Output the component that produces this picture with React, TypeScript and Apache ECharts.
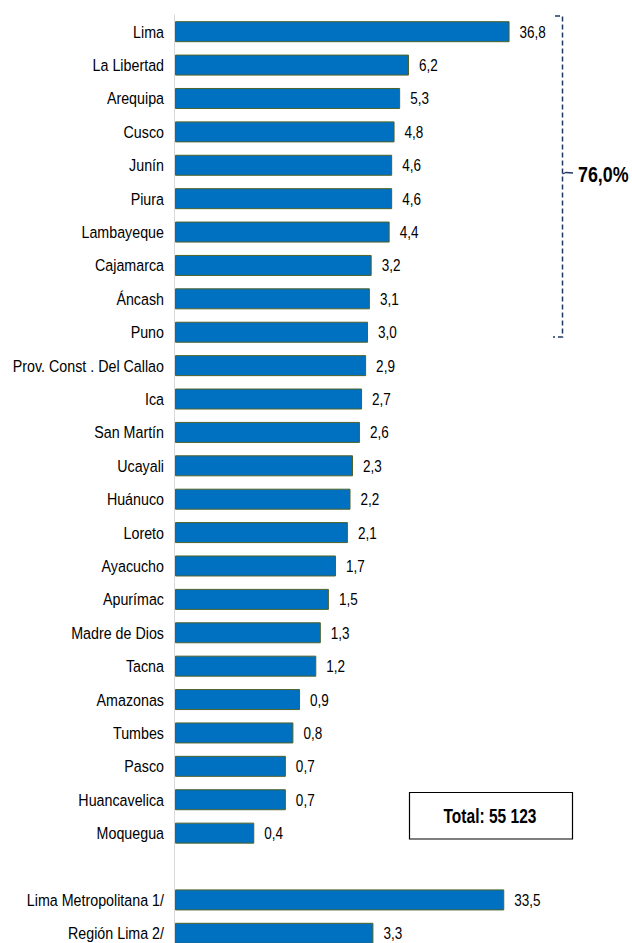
import React, { useEffect, useRef } from "react";
import * as echarts from "echarts";

const categories: string[] = [
  "Lima", "La Libertad", "Arequipa", "Cusco", "Junín", "Piura", "Lambayeque",
  "Cajamarca", "Áncash", "Puno", "Prov. Const . Del Callao", "Ica", "San Martín",
  "Ucayali", "Huánuco", "Loreto", "Ayacucho", "Apurímac", "Madre de Dios", "Tacna",
  "Amazonas", "Tumbes", "Pasco", "Huancavelica", "Moquegua", "",
  "Lima Metropolitana 1/", "Región Lima 2/",
];

const shares: (number | null)[] = [
  36.8, 6.2, 5.3, 4.8, 4.6, 4.6, 4.4, 3.2, 3.1, 3.0, 2.9, 2.7, 2.6, 2.3, 2.2,
  2.1, 1.7, 1.5, 1.3, 1.2, 0.9, 0.8, 0.7, 0.7, 0.4, null, 33.5, 3.3,
];

const axisMin = 0.1;
const axisMax = 100;
const bracketLabel = "76,0%";
const totalLabel = "Total: 55 123";

const FONT = "'Liberation Sans', Arial, sans-serif";

export default function App() {
  const ref = useRef<HTMLDivElement>(null);
  useEffect(() => {
    if (!ref.current) return;
    const chart = echarts.init(ref.current, undefined, { renderer: "svg" });
    const data = shares.map((v, i) => [v === null ? "-" : v, i]);
    const navy = "#1F3864";
    chart.setOption({
      animation: false,
      grid: {
        left: 175,
        right: 67,
        top: 15,
        height: 935,
        containLabel: false,
        outerBoundsMode: "none",
      },
      xAxis: { type: "log", logBase: 10, min: axisMin, max: axisMax, show: false },
      yAxis: {
        type: "category",
        inverse: true,
        data: categories,
        offset: 1,
        axisTick: { show: false },
        axisLine: { show: true, lineStyle: { color: "#D9D9D9", width: 1 } },
        axisLabel: { show: false },
        splitLine: { show: false },
      },
      series: [
        {
          type: "custom",
          encode: { x: 0, y: 1 },
          data,
          clip: false,
          renderItem: (params: any, api: any) => {
            const v = api.value(0);
            const c = api.value(1);
            if (v === null || v === undefined || isNaN(v)) return null;
            const end = api.coord([v, c]);
            const start = api.coord([axisMin, c]);
            const h = 20;
            const name = categories[params.dataIndex];
            return {
              type: "group",
              children: [
                {
                  type: "rect",
                  shape: { x: start[0] + 0.5, y: end[1] - h / 2, width: end[0] - start[0], height: h },
                  style: { fill: "#0070C0", stroke: "#4F6228", lineWidth: 1 },
                },
                {
                  type: "text",
                  x: end[0] + 11,
                  y: end[1],
                  scaleX: 0.82,
                  style: {
                    text: v.toFixed(1).replace(".", ","),
                    fontFamily: FONT,
                    fontSize: 16.5,
                    fill: "#000",
                    textAlign: "left",
                    textVerticalAlign: "middle",
                  },
                },
                {
                  type: "text",
                  x: start[0] - 11,
                  y: end[1],
                  scaleX: 0.84,
                  style: {
                    text: name,
                    fontFamily: FONT,
                    fontSize: 17,
                    fill: "#000",
                    textAlign: "right",
                    textVerticalAlign: "middle",
                  },
                },
              ],
            };
          },
        },
      ],
      graphic: [
        {
          type: "polyline",
          shape: { points: [[555, 16], [562.5, 16], [562.5, 337], [553, 337]] },
          style: { stroke: navy, lineWidth: 1.5, lineDash: [5, 3], fill: null },
        },
        {
          type: "polyline",
          shape: { points: [[562.5, 174], [566, 172.5], [573, 173]] },
          style: { stroke: navy, lineWidth: 1.3, fill: null },
        },
        {
          type: "text",
          x: 578,
          y: 174,
          scaleX: 0.83,
          style: {
            text: bracketLabel,
            fontFamily: FONT,
            fontWeight: "bold",
            fontSize: 21.5,
            fill: "#000",
            textAlign: "left",
            textVerticalAlign: "middle",
          },
        },
        {
          type: "rect",
          shape: { x: 409.5, y: 792.5, width: 163, height: 46.5 },
          style: { fill: "#fff", stroke: "#000", lineWidth: 1.2 },
        },
        {
          type: "text",
          x: 490,
          y: 815.5,
          scaleX: 0.74,
          style: {
            text: totalLabel,
            fontFamily: FONT,
            fontWeight: "bold",
            fontSize: 21,
            fill: "#000",
            textAlign: "center",
            textVerticalAlign: "middle",
          },
        },
      ],
    });
    return () => chart.dispose();
  }, []);
  return (
    <div
      ref={ref}
      style={{ position: "fixed", left: 0, top: 0, width: 632, height: 943, background: "#fff" }}
    />
  );
}
